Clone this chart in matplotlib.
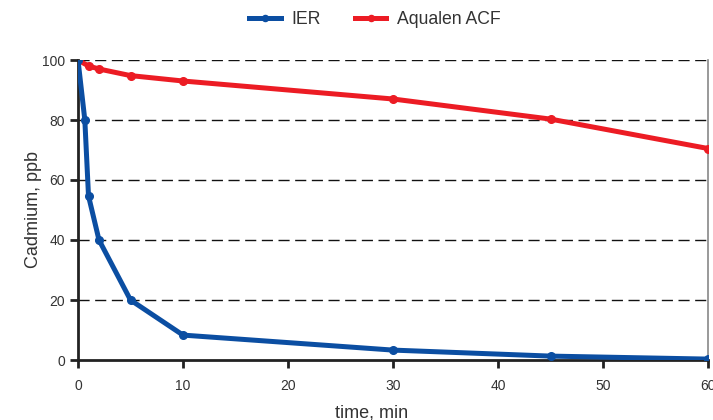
import matplotlib
matplotlib.use("Agg")
import matplotlib.pyplot as plt

plt.rcParams['font.family'] = ['Liberation Sans', 'DejaVu Sans']

ier_time = [0, 0.65, 1, 2, 5, 10, 30, 45, 60]
ier_cd = [100, 80, 54.7, 40, 20, 8.3, 3.3, 1.3, 0.3]
acf_time = [0, 1, 2, 5, 10, 30, 45, 60]
acf_cd = [100, 98, 97, 94.8, 93, 87, 80.3, 70.5]
x_ticks = [0, 10, 20, 30, 40, 50, 60]
y_ticks = [0, 20, 40, 60, 80, 100]

blue = '#0B4EA2'
red = '#EC1C24'

fig = plt.figure(figsize=(7.13, 4.2), dpi=100)
ax = fig.add_axes([78/713, 1-360/420, (708-78)/713, 300/420])

ax.plot(ier_time, ier_cd, color=blue, lw=3.6, marker='o', ms=5.5, label='IER', zorder=4)
ax.plot(acf_time, acf_cd, color=red, lw=3.6, marker='o', ms=5.5, label='Aqualen ACF', zorder=3)

ax.set_xlim(0, 60)
ax.set_ylim(0, 100)
ax.set_xticks(x_ticks)
ax.set_yticks(y_ticks)
for y in y_ticks[1:]:
    ax.axhline(y, color='#111111', lw=1.0, ls=(0, (8, 4)), zorder=1)

ax.spines['top'].set_visible(False)
ax.spines['right'].set_color('#888888')
ax.spines['right'].set_linewidth(1.2)
ax.spines['left'].set_linewidth(2)
ax.spines['bottom'].set_linewidth(2)
ax.spines['left'].set_color('#222222')
ax.spines['bottom'].set_color('#222222')
ax.tick_params(axis='both', direction='out', length=6, width=2, color='#222222',
               labelsize=10, labelcolor='#333333')
ax.tick_params(axis='x', pad=8)
for sp in ax.spines.values():
    sp.set_clip_on(False)

ax.set_ylabel('Cadmium, ppb', fontsize=13, color='#333333')
ax.yaxis.set_label_coords(-(78-42)/630, 0.5)
ax.set_xlabel('time, min', fontsize=13, color='#333333')
ax.xaxis.set_label_coords((372-78)/630, -44/300)

leg = fig.legend(loc='center', bbox_to_anchor=(0.526, 1 - 20/420), ncol=2, frameon=False,
                 fontsize=12.7, handlelength=1.8, columnspacing=1.9, handletextpad=0.6,
                 markerscale=0.8, labelcolor='#333333')

fig.savefig('out.png', dpi=100)
